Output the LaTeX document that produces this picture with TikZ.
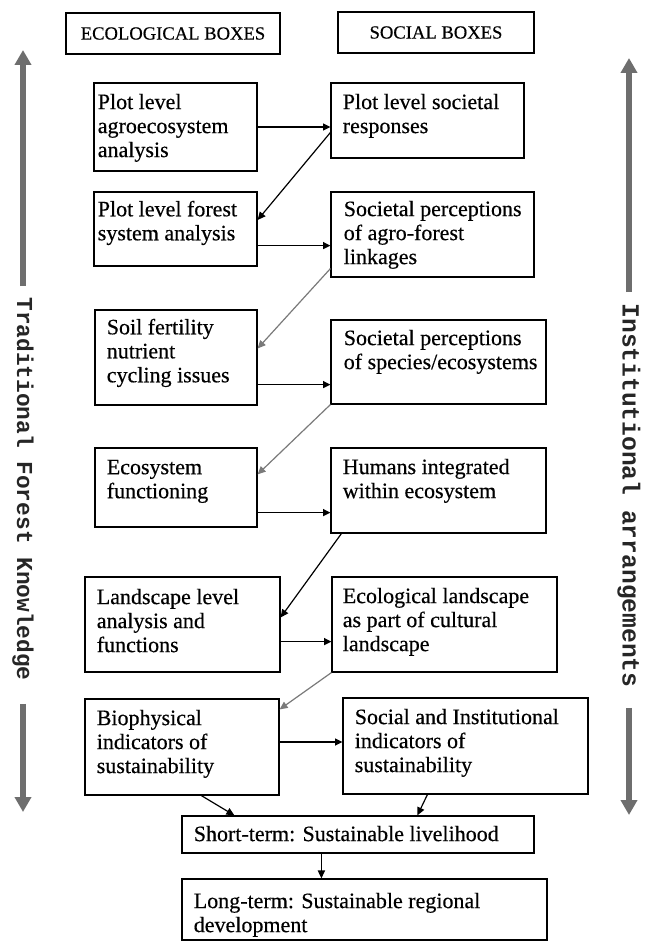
\documentclass[tikz,border=0pt]{standalone}
\usepackage{fontspec}
\setmainfont{Liberation Serif}[FakeBold=0.4]
\newfontfamily\sidefont{Liberation Mono}
\usetikzlibrary{arrows.meta,fit,calc}
\definecolor{biggray}{HTML}{6E6E6E}
\definecolor{linkgray}{HTML}{7A7A7A}
\begin{document}
\begin{tikzpicture}[x=0.5pt,y=-0.5pt,
  box/.style={draw=black, line width=0.6pt, inner sep=0pt},
  hdr/.style={box, font=\fontsize{9.3}{11}\selectfont},
  txt/.style={anchor=north west, inner sep=0pt, align=left, font=\fontsize{11}{12}\selectfont},
  link/.style={draw=black, line width=0.8pt, -{Triangle[length=3.6pt,width=3.4pt]}},
  dlink/.style={draw=black, line width=0.6pt, -{Triangle[length=4pt,width=3.6pt]}},
  glink/.style={dlink, draw=linkgray},
  big/.style={draw=biggray, line width=3pt, -{Triangle[length=7.5pt,width=8pt]}},
  side/.style={inner sep=0pt, rotate=-90, text=black!85}
]
\useasboundingbox (0,0) rectangle (651,941);
\fill[white] (0,0) rectangle (651,941);

% headers
\node[hdr, fit={(66,13) (280,54)}] (eco) {};
\node[inner sep=0pt, font=\fontsize{9.3}{11}\selectfont] (ecot) at (eco.center) {ECOLOGICAL BOXES};
\node[hdr, fit={(338,12) (534,53)}] (soc) {};
\node[inner sep=0pt, font=\fontsize{9.3}{11}\selectfont] (soct) at (soc.center) {SOCIAL BOXES};

% boxes
\node[box, fit={(94,83) (257,171)}] (A1) {};
\node[box, fit={(331,83) (524,158)}] (B1) {};
\node[box, fit={(94,192) (257,266)}] (A2) {};
\node[box, fit={(331,192) (534,277)}] (B2) {};
\node[box, fit={(95,310) (257,405)}] (A3) {};
\node[box, fit={(331,320) (546,404)}] (B3) {};
\node[box, fit={(95,448) (257,527)}] (A4) {};
\node[box, fit={(331,448) (546,533)}] (B4) {};
\node[box, fit={(85,577) (280,672)}] (A5) {};
\node[box, fit={(332,577) (557,672)}] (B5) {};
\node[box, fit={(85,699) (279,795)}] (A6) {};
\node[box, fit={(343,698) (588,794)}] (B6) {};
\node[box, fit={(182,816) (534,853)}] (S) {};
\node[box, fit={(182,879) (547,940)}] (L) {};

% texts
\node[txt] (A1t) at ($(A1.north west)+(4,11)$) {Plot level\\agroecosystem\\analysis};
\node[txt] (B1t) at ($(B1.north west)+(12,11)$) {Plot level societal\\responses};
\node[txt] (A2t) at ($(A2.north west)+(4,9)$) {Plot level forest\\system analysis};
\node[txt] (B2t) at ($(B2.north west)+(13,9)$) {Societal perceptions\\of agro-forest\\linkages};
\node[txt] (A3t) at ($(A3.north west)+(12,9)$) {Soil fertility\\nutrient\\cycling issues};
\node[txt] (B3t) at ($(B3.north west)+(13,10)$) {Societal perceptions\\of species/ecosystems};
\node[txt] (A4t) at ($(A4.north west)+(12,12)$) {Ecosystem\\functioning};
\node[txt] (B4t) at ($(B4.north west)+(12,11)$) {Humans integrated\\within ecosystem};
\node[txt] (A5t) at ($(A5.north west)+(12,12)$) {Landscape level\\analysis and\\functions};
\node[txt] (B5t) at ($(B5.north west)+(11,11)$) {Ecological landscape\\as part of cultural\\landscape};
\node[txt] (A6t) at ($(A6.north west)+(12,11)$) {Biophysical\\indicators of\\sustainability};
\node[txt] (B6t) at ($(B6.north west)+(12,11)$) {Social and Institutional\\indicators of\\sustainability};
\node[txt] (St) at ($(S.north west)+(12,10)$) {Short-term: Sustainable livelihood};
\node[txt] (Lt) at ($(L.north west)+(12,14)$) {Long-term: Sustainable regional\\development};

% horizontal links
\draw[link] (A1.east) -- (A1.east -| B1.west);
\draw[link] ($(A2.south east)+(0,-21)$) -- ($(A2.south east -| B2.west)+(0,-21)$);
\draw[link] ($(A3.south east)+(0,-21)$) -- ($(A3.south east -| B3.west)+(0,-21)$);
\draw[link] ($(A4.south east)+(0,-15)$) -- ($(A4.south east -| B4.west)+(0,-15)$);
\draw[link] ($(A5.south east)+(0,-31)$) -- ($(A5.south east -| B5.west)+(0,-31)$);
\draw[link] ($(A6.east)+(0,-5)$) -- ($(A6.east -| B6.west)+(0,-5)$);

% diagonal links
\draw[dlink] ($(B1.west)+(0,12)$) -- ($(A2.east)+(0,-9)$);
\draw[glink] ($(B2.south west)+(0,-9)$) -- ($(A3.east)+(0,-9)$);
\draw[glink] (B3.south west) -- ($(A4.north east)+(0,27)$);
\draw[dlink] ($(B4.south west)+(11,0)$) -- ($(A5.east)+(0,-7)$);
\draw[glink] (B5.south west) -- ($(A6.north east)+(0,11)$);
\draw[dlink] ($(A6.south west)+(117,0)$) -- ($(S.north west)+(53,0)$);
\draw[dlink] ($(B6.south west)+(85,0)$) -- ($(S.north west)+(236,0)$);
\draw[dlink] ($(S.south west)+(140,0)$) -- ($(L.north west)+(140,0)$);

% side labels and arrows
\node[side, font=\sidefont\bfseries\fontsize{11.4}{12}\selectfont] (trad) at (23,489) {Traditional Forest Knowledge};
\node[side, font=\sidefont\bfseries\fontsize{12.3}{13}\selectfont] (inst) at (629,495.5) {Institutional arrangements};
\coordinate (lup) at (23,50);
\coordinate (ldn) at (23,812);
\coordinate (rup) at (629,58);
\coordinate (rdn) at (629,815);
\draw[big] ($(trad.west)+(0,-11)$) -- (lup);
\draw[big] ($(trad.east)+(0,23)$) -- (ldn);
\draw[big] ($(inst.west)+(0,-11)$) -- (rup);
\draw[big] ($(inst.east)+(0,20)$) -- (rdn);
\end{tikzpicture}
\end{document}
